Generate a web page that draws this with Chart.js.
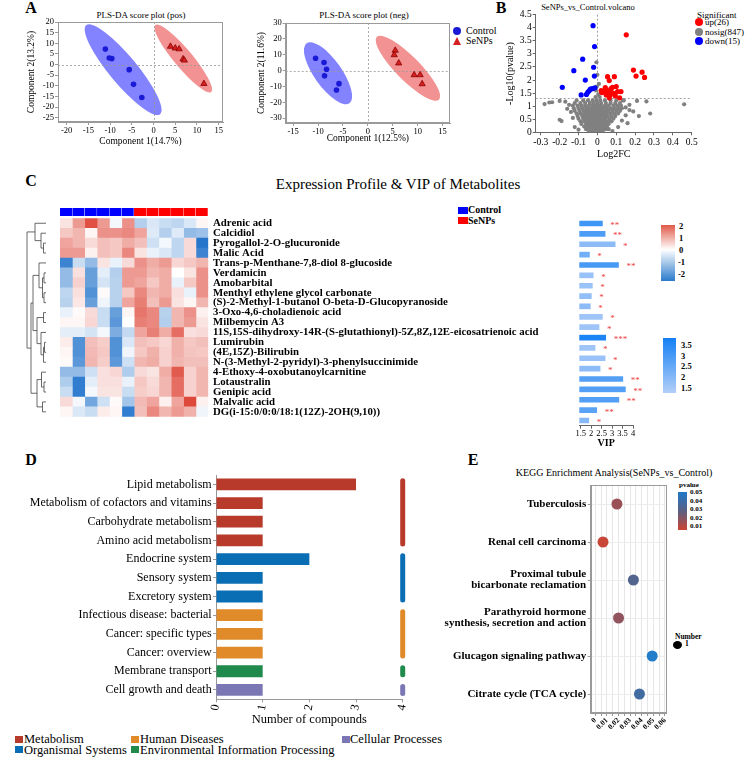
<!DOCTYPE html>
<html>
<head>
<meta charset="utf-8">
<script src="https://cdn.jsdelivr.net/npm/chart.js@4.4.0/dist/chart.umd.min.js"></script>
<style>
  body { margin: 0; background: #fff; width: 745px; height: 763px; position: relative; overflow: hidden;
         font-family: "Liberation Serif", "Times New Roman", serif; color: #000; }
  canvas { position: absolute; }
  .t { position: absolute; white-space: nowrap; line-height: 1; }
  .c { transform: translate(-50%, -50%); }
  .l { transform: translateY(-50%); }
  .letter { font-weight: bold; font-size: 16px; }
  .sw { position: absolute; }
</style>
</head>
<body>

<!-- panel letters / titles -->
<div class="t c letter" style="left:31px;top:8px">A</div>
<div class="t c letter" style="left:501px;top:8px">B</div>
<div class="t c letter" style="left:31px;top:181px">C</div>
<div class="t c letter" style="left:31px;top:460px">D</div>
<div class="t c letter" style="left:473px;top:460px">E</div>

<div class="t c" style="left:141px;top:15px;font-size:9px">PLS-DA score plot (pos)</div>
<div class="t c" style="left:364px;top:15px;font-size:9px">PLS-DA score plot (neg)</div>
<div class="t c" style="left:588px;top:7px;font-size:8.5px">SeNPs_vs_Control.volcano</div>
<div class="t c" style="left:398px;top:184px;font-size:15px">Expression Profile &amp; VIP of Metabolites</div>
<div class="t c" style="left:614px;top:473px;font-size:10px">KEGG Enrichment Analysis(SeNPs_vs_Control)</div>

<!-- A (neg) legend -->
<div class="sw" style="left:453px;top:27px;width:8px;height:8px;border-radius:50%;background:#1a1ad6"></div>
<div class="t l" style="left:466px;top:31px;font-size:10px">Control</div>
<div class="sw" style="left:453px;top:37px;width:0;height:0;border-left:4.5px solid transparent;border-right:4.5px solid transparent;border-bottom:8px solid #d42020"></div>
<div class="t l" style="left:466px;top:41px;font-size:10px">SeNPs</div>

<!-- B legend -->
<div class="t l" style="left:697px;top:15px;font-size:9px">Significant</div>
<div class="sw" style="left:695px;top:18px;width:8px;height:8px;border-radius:50%;background:#ff0000"></div>
<div class="t l" style="left:705px;top:22px;font-size:9px">up(26)</div>
<div class="sw" style="left:695px;top:28px;width:8px;height:8px;border-radius:50%;background:#808080"></div>
<div class="t l" style="left:705px;top:32px;font-size:9px">nosig(847)</div>
<div class="sw" style="left:695px;top:37px;width:8px;height:8px;border-radius:50%;background:#0000ff"></div>
<div class="t l" style="left:705px;top:41px;font-size:9px">down(15)</div>

<!-- C legends -->
<div class="sw" style="left:458px;top:207px;width:10px;height:7px;background:#0000ff"></div>
<div class="t l" style="left:468px;top:210px;font-size:10px;font-weight:bold">Control</div>
<div class="sw" style="left:458px;top:217px;width:10px;height:7px;background:#ff0000"></div>
<div class="t l" style="left:468px;top:221px;font-size:10px;font-weight:bold">SeNPs</div>

<div class="sw" style="left:661px;top:225px;width:14px;height:56px;background:linear-gradient(#e05a48 0%, #ffffff 44%, #2a7acb 100%)"></div>
<div class="t l" style="left:679px;top:226px;font-size:8.5px;font-weight:bold">2</div>
<div class="t l" style="left:679px;top:238px;font-size:8.5px;font-weight:bold">1</div>
<div class="t l" style="left:679px;top:250px;font-size:8.5px;font-weight:bold">0</div>
<div class="t l" style="left:678px;top:262px;font-size:8.5px;font-weight:bold">-1</div>
<div class="t l" style="left:678px;top:274px;font-size:8.5px;font-weight:bold">-2</div>

<div class="sw" style="left:663px;top:338px;width:13px;height:55px;background:linear-gradient(#1480f5, #b3cff8)"></div>
<div class="t l" style="left:681px;top:345px;font-size:8.5px;font-weight:bold">3.5</div>
<div class="t l" style="left:681px;top:356px;font-size:8.5px;font-weight:bold">3</div>
<div class="t l" style="left:681px;top:366px;font-size:8.5px;font-weight:bold">2.5</div>
<div class="t l" style="left:681px;top:377px;font-size:8.5px;font-weight:bold">2</div>
<div class="t l" style="left:681px;top:388px;font-size:8.5px;font-weight:bold">1.5</div>

<!-- D legend -->
<div class="sw" style="left:15px;top:736px;width:8px;height:7px;background:#b83a2a"></div>
<div class="t l" style="left:24px;top:739px;font-size:12.5px">Metabolism</div>
<div class="sw" style="left:131px;top:736px;width:8px;height:7px;background:#e08a2a"></div>
<div class="t l" style="left:140px;top:739px;font-size:12.5px">Human Diseases</div>
<div class="sw" style="left:342px;top:736px;width:8px;height:7px;background:#7b77b5"></div>
<div class="t l" style="left:350px;top:739px;font-size:12.5px">Cellular Processes</div>
<div class="sw" style="left:15px;top:746px;width:8px;height:7px;background:#0a6eb4"></div>
<div class="t l" style="left:24px;top:750px;font-size:12.5px">Organismal Systems</div>
<div class="sw" style="left:131px;top:746px;width:8px;height:7px;background:#1f8a4c"></div>
<div class="t l" style="left:140px;top:750px;font-size:12.5px">Environmental Information Processing</div>

<!-- E legends -->
<div class="t l" style="left:679px;top:485px;font-size:7px;font-weight:bold">pvalue</div>
<div class="sw" style="left:678px;top:492px;width:9px;height:38px;background:linear-gradient(#1f78c8, #5a5f82 50%, #cc4433)"></div>
<div class="t l" style="left:690px;top:492px;font-size:7px;font-weight:bold">0.05</div>
<div class="t l" style="left:690px;top:501px;font-size:7px;font-weight:bold">0.04</div>
<div class="t l" style="left:690px;top:509px;font-size:7px;font-weight:bold">0.03</div>
<div class="t l" style="left:690px;top:518px;font-size:7px;font-weight:bold">0.02</div>
<div class="t l" style="left:690px;top:526px;font-size:7px;font-weight:bold">0.01</div>
<div class="t l" style="left:675px;top:637px;font-size:7.5px;font-weight:bold">Number</div>
<div class="sw" style="left:673px;top:641px;width:9px;height:8px;border-radius:50%;background:#000"></div>
<div class="t l" style="left:685px;top:644px;font-size:7.5px;font-weight:bold">1</div>

<canvas id="plsPos" width="250" height="160" style="left:0;top:0"></canvas>
<canvas id="plsNeg" width="250" height="160" style="left:250px;top:0"></canvas>
<canvas id="volcano" width="245" height="160" style="left:500px;top:0"></canvas>
<canvas id="groupBar" width="148" height="8" style="left:60px;top:208px"></canvas>
<canvas id="heat" width="540" height="228" style="left:10px;top:200px"></canvas>
<canvas id="vip" width="100" height="250" style="left:560px;top:200px"></canvas>
<canvas id="kegg1" width="420" height="265" style="left:0;top:465px"></canvas>
<canvas id="kegg2" width="325" height="255" style="left:420px;top:478px"></canvas>

<script>
// ---------- A: PLS-DA scores ----------
const posControl = [[-11.1, 7.3], [-10.2, 3.1], [-9.6, 2.8], [-5.6, -2.4], [-4.6, -9.3], [-2.7, -15.5]];
const posSeNPs = [[3.9, 8.5], [5.0, 7.7], [5.9, 7.3], [6.8, 2.6], [7.1, 2.0], [11.6, -9.0]];
const negControl = [[-10.5, 7.8], [-8.8, 5.1], [-8.3, 0.9], [-8.7, -3.2], [-5.8, -8.2], [-6.3, -12.2]];
const negSeNPs = [[5.5, 12.7], [5.3, 9.9], [6.2, 4.7], [9.3, -2.7], [10.5, -2.7], [10.9, -8.4]];
// confidence ellipses: major-axis tips (x1, y1, x2, y2) and minor/major ratio
const posEllipseControl = [-15.5, 18.5, 1.5, -23.3, 0.24];
const posEllipseSeNPs = [0.4, 18.6, 13.3, -12.9, 0.21];
const negEllipseControl = [-12.3, 17.3, -3.7, -20.6, 0.37];
const negEllipseSeNPs = [1.8, 21.3, 14.3, -18.3, 0.27];

// ---------- B: volcano ----------
const volcanoUp = [[0.153, 3.73], [0.191, 2.38], [0.237, 2.30], [0.205, 2.15], [0.25, 2.1], [0.054, 2.13],
  [0.09, 2.13], [0.063, 1.98], [0.042, 1.71], [0.1, 1.75], [0.072, 1.67], [0.024, 1.52], [0.036, 1.56],
  [0.054, 1.6], [0.072, 1.56], [0.086, 1.49], [0.107, 1.56], [0.125, 1.56], [0.068, 1.43], [0.047, 1.43],
  [0.095, 1.39], [0.118, 1.32], [0.063, 1.32], [0.042, 1.63], [0.02, 1.6], [0.08, 1.72]];
const volcanoDown = [[-0.023, 4.08], [-0.015, 3.28], [-0.078, 2.8], [-0.125, 2.36], [-0.02, 2.49],
  [-0.016, 2.15], [-0.064, 2.0], [-0.186, 1.72], [-0.086, 1.43], [-0.058, 1.45], [-0.051, 1.53],
  [-0.044, 1.59], [-0.037, 1.65], [-0.027, 1.67], [-0.013, 1.7]];
const volcanoNosig = [
  [-0.045, 0.03], [-0.03, 0.03], [-0.015, 0.03], [0, 0.03], [0.015, 0.03], [0.028, 0.03],
  [-0.06, 0.12], [-0.045, 0.12], [-0.03, 0.12], [-0.015, 0.12], [0, 0.12], [0.015, 0.12], [0.03, 0.12], [0.045, 0.12],
  [-0.07, 0.22], [-0.055, 0.22], [-0.04, 0.22], [-0.025, 0.22], [-0.01, 0.22], [0.005, 0.22], [0.02, 0.22], [0.035, 0.22], [0.05, 0.22],
  [-0.085, 0.32], [-0.06, 0.32], [-0.045, 0.32], [-0.03, 0.32], [-0.015, 0.32], [0, 0.32], [0.015, 0.32], [0.03, 0.32], [0.045, 0.32], [0.06, 0.32],
  [-0.09, 0.42], [-0.07, 0.42], [-0.05, 0.42], [-0.035, 0.42], [-0.02, 0.42], [-0.005, 0.42], [0.01, 0.42], [0.025, 0.42], [0.04, 0.42], [0.06, 0.42], [0.075, 0.42],
  [-0.1, 0.52], [-0.075, 0.52], [-0.06, 0.52], [-0.045, 0.52], [-0.03, 0.52], [-0.015, 0.52], [0, 0.52], [0.015, 0.52], [0.03, 0.52], [0.045, 0.52], [0.065, 0.52], [0.085, 0.52],
  [-0.105, 0.62], [-0.08, 0.62], [-0.065, 0.62], [-0.05, 0.62], [-0.035, 0.62], [-0.02, 0.62], [-0.005, 0.62], [0.01, 0.62], [0.025, 0.62], [0.04, 0.62], [0.055, 0.62], [0.075, 0.62], [0.095, 0.62],
  [-0.11, 0.72], [-0.09, 0.72], [-0.07, 0.72], [-0.055, 0.72], [-0.04, 0.72], [-0.025, 0.72], [-0.01, 0.72], [0.005, 0.72], [0.02, 0.72], [0.035, 0.72], [0.05, 0.72], [0.07, 0.72], [0.09, 0.72], [0.11, 0.72],
  [-0.12, 0.82], [-0.095, 0.82], [-0.075, 0.82], [-0.06, 0.82], [-0.045, 0.82], [-0.03, 0.82], [-0.015, 0.82], [0, 0.82], [0.015, 0.82], [0.03, 0.82], [0.045, 0.82], [0.06, 0.82], [0.08, 0.82], [0.1, 0.82], [0.12, 0.82],
  [-0.125, 0.92], [-0.1, 0.92], [-0.08, 0.92], [-0.06, 0.92], [-0.045, 0.92], [-0.03, 0.92], [-0.015, 0.92], [0, 0.92], [0.015, 0.92], [0.03, 0.92], [0.05, 0.92], [0.07, 0.92], [0.09, 0.92], [0.11, 0.92], [0.13, 0.92],
  [-0.13, 1.02], [-0.105, 1.02], [-0.085, 1.02], [-0.065, 1.02], [-0.045, 1.02], [-0.025, 1.02], [-0.01, 1.02], [0.005, 1.02], [0.02, 1.02], [0.04, 1.02], [0.06, 1.02], [0.085, 1.02], [0.105, 1.02], [0.125, 1.02],
  [-0.12, 1.12], [-0.09, 1.12], [-0.065, 1.12], [-0.04, 1.12], [-0.02, 1.12], [0, 1.12], [0.02, 1.12], [0.045, 1.12], [0.07, 1.12], [0.095, 1.12], [0.12, 1.12],
  [-0.11, 1.22], [-0.075, 1.22], [-0.05, 1.22], [-0.025, 1.22], [-0.005, 1.22], [0.015, 1.22], [0.04, 1.22], [0.07, 1.22], [0.1, 1.22], [0.135, 1.22],
  [-0.01, 1.35], [0.012, 1.35], [0.005, 1.45], [-0.008, 1.6], [-0.003, 1.75], [0.008, 1.85], [0, 2.2], [-0.005, 2.68],
  [-0.28, 1.08], [-0.255, 1.14], [-0.24, 1.15], [-0.2, 1.2], [-0.17, 1.17], [-0.15, 1.05], [-0.16, 0.9], [-0.14, 0.78],
  [-0.2, 0.48], [-0.19, 0.43], [-0.13, 0.55], [-0.12, 0.2], [0.11, 0.2], [0.13, 0.45], [0.15, 0.95], [0.17, 0.85],
  [0.19, 0.8], [0.15, 0.65], [0.22, 0.62], [0.28, 0.72], [0.21, 1.2], [0.26, 1.18], [0.46, 1.07], [0.17, 1.05],
  [0.14, 1.22], [0.16, 0.35], [-0.1, 0.1], [0.08, 0.05], [0.06, 0.12]];

// ---------- C: heatmap + VIP ----------
const metabolites = ['Adrenic acid', 'Calcidiol', 'Pyrogallol-2-O-glucuronide', 'Malic Acid',
  'Trans-p-Menthane-7,8-diol 8-glucoside', 'Verdamicin', 'Amobarbital', 'Menthyl ethylene glycol carbonate',
  '(S)-2-Methyl-1-butanol O-beta-D-Glucopyranoside', '3-Oxo-4,6-choladienoic acid', 'Milbemycin A3',
  '11S,15S-dihydroxy-14R-(S-glutathionyl)-5Z,8Z,12E-eicosatrienoic acid', 'Lumirubin', '(4E,15Z)-Bilirubin',
  'N-(3-Methyl-2-pyridyl)-3-phenylsuccinimide', '4-Ethoxy-4-oxobutanoylcarnitine', 'Lotaustralin',
  'Genipic acid', 'Malvalic acid', 'DG(i-15:0/0:0/18:1(12Z)-2OH(9,10))'];
const sampleGroup = ['Control', 'Control', 'Control', 'Control', 'Control', 'Control',
  'SeNPs', 'SeNPs', 'SeNPs', 'SeNPs', 'SeNPs', 'SeNPs'];
const heatZ = [
  [0.3, 1.1, 1.9, 1.1, -0.1, 1.2, -0.7, -0.35, -0.5, -0.6, -0.35, 0.1],
  [0.6, 0.8, 0.1, 1.2, 1.2, 1.3, 1.0, -0.3, -0.7, -0.3, -1.0, -0.9],
  [1.0, 0.8, 0.4, 0.7, 0.6, 0.9, 0.7, -0.45, -0.1, -0.6, 0.4, -2.0],
  [1.1, 1.1, 0.15, 0.7, 0.6, 1.3, 0.3, -0.2, -0.35, -0.6, 0.4, -1.8],
  [-1.8, -0.5, -1.0, 0.3, -0.2, 0.4, 1.2, 0.9, 1.1, 0.45, 0.6, 0.8],
  [-1.0, 0.35, -1.4, -0.25, -0.7, 1.1, 1.1, 0.8, 0.9, 0.0, 0.3, 1.2],
  [-1.0, 0.5, -1.4, -0.4, -0.65, 1.1, 1.0, 0.6, 0.9, -0.2, 0.6, 1.2],
  [-0.6, 0.35, -1.6, 0.05, -0.65, 0.6, 1.3, 0.8, 0.9, 0.35, -0.2, 1.2],
  [-0.65, 0.25, -1.4, -0.15, -0.65, 1.0, 1.4, 0.7, 1.1, 0.3, 0.1, 0.8],
  [-0.2, 0.05, 0.4, -0.5, -1.4, 0.1, 1.5, 1.3, -0.65, 0.8, 1.2, 0.15],
  [0.1, 0.1, 0.45, -0.5, -1.5, 0.0, 1.4, 1.3, -0.7, 0.8, 1.1, 0.3],
  [-0.25, -0.25, -0.4, -0.1, -1.2, -0.55, 1.0, 1.4, 0.9, 1.6, 0.35, 0.4],
  [0.2, -1.6, 0.7, 0.55, -1.6, -0.35, 0.7, 0.6, 0.45, 0.85, 0.6, 0.7],
  [0.1, -1.6, 0.75, 0.6, -1.6, -0.15, 0.6, 0.85, 0.5, 0.85, 0.65, 0.6],
  [0.05, -1.5, 0.8, 0.55, -1.5, -0.45, 0.8, 0.9, 0.5, 0.8, 0.7, 0.7],
  [-1.0, -1.0, -0.45, 0.35, 0.45, -0.75, 0.4, 0.3, 0.9, 1.8, 0.5, 0.8],
  [-0.75, -1.9, -0.25, 0.35, 0.35, -0.2, 0.6, 0.4, 0.8, 1.6, 0.5, 0.8],
  [-0.5, -1.9, -0.1, 0.3, 0.3, -0.5, 0.55, 0.45, 0.8, 1.6, 0.5, 0.8],
  [0.4, -0.1, -1.3, -0.45, 0.05, -0.85, 0.75, 1.0, 0.15, 1.0, 2.0, 0.15],
  [0.1, -0.35, -0.5, 0.2, 0.1, -1.9, 0.7, 1.3, 0.8, 1.1, 0.85, -0.15]];
// row dendrogram merges: [nodeA, nodeB, height]; leaves are 0..19, new nodes numbered from 20
const rowMerges = [
  [2, 3, 2.5], [1, 20, 5], [0, 21, 11],
  [5, 6, 2], [7, 8, 2], [23, 24, 3.5], [4, 25, 7],
  [9, 10, 2.5], [12, 13, 1.5], [28, 14, 2.5], [11, 29, 5], [27, 30, 9],
  [16, 17, 2], [15, 32, 4.5], [18, 19, 3.5], [33, 34, 9],
  [26, 31, 13], [36, 35, 15], [22, 37, 19]];
const vipScore = [2.58, 2.71, 3.19, 1.96, 3.35, 2.14, 2.10, 2.05, 2.00, 2.58, 2.42, 2.74, 2.23, 2.71, 2.47,
  3.56, 3.68, 3.37, 2.31, 1.93];
const vipLogP = [3.1, 2.9, 1.9, 2.3, 3.0, 1.7, 1.7, 1.8, 1.9, 1.6, 1.6, 3.7, 1.6, 1.7, 1.9, 2.8, 2.8, 2.8, 2.7, 2.0];
const vipStars = ['**', '**', '*', '*', '**', '*', '*', '*', '*', '*', '*', '***', '*', '*', '*',
  '**', '**', '**', '**', '*'];

// ---------- D: KEGG classification ----------
const pathways = ['Lipid metabolism', 'Metabolism of cofactors and vitamins', 'Carbohydrate metabolism',
  'Amino acid metabolism', 'Endocrine system', 'Sensory system', 'Excretory system',
  'Infectious disease: bacterial', 'Cancer: specific types', 'Cancer: overview', 'Membrane transport',
  'Cell growth and death'];
const compoundCounts = [3, 1, 1, 1, 2, 1, 1, 1, 1, 1, 1, 1];
const pathwayClass = ['Metabolism', 'Metabolism', 'Metabolism', 'Metabolism', 'Organismal Systems',
  'Organismal Systems', 'Organismal Systems', 'Human Diseases', 'Human Diseases', 'Human Diseases',
  'Environmental Information Processing', 'Cellular Processes'];
const classColors = {
  'Metabolism': '#b83a2a', 'Organismal Systems': '#0a6eb4', 'Human Diseases': '#e08a2a',
  'Environmental Information Processing': '#1f8a4c', 'Cellular Processes': '#7b77b5'
};

// ---------- E: KEGG enrichment ----------
const keggTerms = ['Tuberculosis', 'Renal cell carcinoma', ['Proximal tubule', 'bicarbonate reclamation'],
  ['Parathyroid hormone', 'synthesis, secretion and action'], 'Glucagon signaling pathway',
  'Citrate cycle (TCA cycle)'];
const keggPvalue = [0.0186, 0.0066, 0.0328, 0.0200, 0.0490, 0.0380];
const keggNumber = [1, 1, 1, 1, 1, 1];

Chart.defaults.font.family = "'Liberation Serif', 'Times New Roman', serif";
Chart.defaults.color = '#000';

function mix(a, b, t) {
  t = Math.max(0, Math.min(1, t));
  return 'rgb(' + a.map((v, i) => Math.round(v + (b[i] - v) * t)).join(',') + ')';
}
function zColor(z) {
  return z >= 0 ? mix([255, 255, 255], [222, 72, 58], z / 2) : mix([255, 255, 255], [38, 118, 204], -z / 2);
}
function vipColor(v) { return mix([178, 206, 248], [20, 128, 245], (v - 1.3) / 2.5); }
function pColor(p) {
  if (p <= 0.03) return mix([200, 70, 55], [90, 95, 130], (p - 0.01) / 0.02);
  return mix([90, 95, 130], [30, 125, 205], (p - 0.03) / 0.02);
}
// plain number labels: 4 instead of 4.0
const plain = v => String(+(+v).toFixed(3));

const framePlugin = {
  id: 'frame',
  afterDraw(chart) {
    const { ctx, chartArea: a } = chart;
    ctx.save();
    ctx.strokeStyle = '#9a9a9a';
    ctx.lineWidth = 1;
    ctx.strokeRect(Math.round(a.left) + 0.5, Math.round(a.top) + 0.5,
      Math.round(a.right - a.left) - 1, Math.round(a.bottom - a.top) - 1);
    ctx.restore();
  }
};

const ellipsePlugin = {
  id: 'ellipses',
  beforeDatasetsDraw(chart, args, opts) {
    const { ctx, scales: { x, y } } = chart;
    (opts.items || []).forEach(e => {
      const [x1, y1, x2, y2, ratio] = e.axis;
      const px1 = x.getPixelForValue(x1), py1 = y.getPixelForValue(y1);
      const px2 = x.getPixelForValue(x2), py2 = y.getPixelForValue(y2);
      const a = Math.hypot(px2 - px1, py2 - py1) / 2;
      ctx.save();
      ctx.fillStyle = e.color;
      ctx.beginPath();
      ctx.ellipse((px1 + px2) / 2, (py1 + py2) / 2, a, a * ratio, Math.atan2(py2 - py1, px2 - px1), 0, Math.PI * 2);
      ctx.fill();
      ctx.restore();
    });
  }
};

const refLinePlugin = {
  id: 'refLines',
  beforeDatasetsDraw(chart, args, opts) {
    const { ctx, chartArea: a, scales: { x, y } } = chart;
    ctx.save();
    ctx.strokeStyle = opts.color || '#9a9a9a';
    ctx.lineWidth = 0.8;
    ctx.setLineDash([2, 2]);
    (opts.x || []).forEach(v => {
      const px = Math.round(x.getPixelForValue(v)) + 0.5;
      ctx.beginPath(); ctx.moveTo(px, a.top); ctx.lineTo(px, a.bottom); ctx.stroke();
    });
    (opts.y || []).forEach(v => {
      const py = Math.round(y.getPixelForValue(v)) + 0.5;
      ctx.beginPath(); ctx.moveTo(a.left, py); ctx.lineTo(a.right, py); ctx.stroke();
    });
    ctx.restore();
  }
};

function base(extra) {
  return Object.assign({
    responsive: false, animation: false, devicePixelRatio: 1,
    plugins: { legend: { display: false }, tooltip: { enabled: false } }
  }, extra);
}
const pts = arr => arr.map(p => ({ x: p[0], y: p[1] }));

function axisLin(opts) {
  return Object.assign({
    type: 'linear',
    grid: { drawOnChartArea: false, tickLength: 3, color: '#9a9a9a' },
    border: { color: '#9a9a9a' }
  }, opts);
}

function plsChart(id, ctrl, sen, ellipses, cfg) {
  return new Chart(document.getElementById(id), {
    type: 'scatter',
    data: {
      datasets: [
        { label: 'SeNPs', data: pts(sen), pointStyle: 'triangle', pointRadius: 3.6,
          backgroundColor: '#d42020', borderColor: '#8b0000', borderWidth: 0.8 },
        { label: 'Control', data: pts(ctrl), pointStyle: 'circle', pointRadius: 2.8,
          backgroundColor: '#1a1ad6', borderColor: '#1a1ad6', borderWidth: 0 }
      ]
    },
    options: base({
      layout: { padding: cfg.padding },
      plugins: {
        legend: { display: false }, tooltip: { enabled: false },
        ellipses: { items: ellipses }, refLines: { x: [0], y: [0] }
      },
      scales: {
        x: axisLin({
          min: cfg.xr[0], max: cfg.xr[1],
          ticks: { stepSize: 5, includeBounds: false, autoSkip: false, font: { size: 8.5 }, padding: 1, maxRotation: 0 },
          title: { display: true, text: cfg.xt, font: { size: 9.5 }, padding: { top: 0, bottom: cfg.xtp } },
          afterFit: s => { s.height = cfg.xh; }
        }),
        y: axisLin({
          min: cfg.yr[0], max: cfg.yr[1],
          ticks: { stepSize: cfg.ys, includeBounds: false, autoSkip: false, font: { size: 8.5 }, padding: 1 },
          title: { display: true, text: cfg.yt, font: { size: 9.5 }, padding: { top: cfg.ytp, bottom: 0 } },
          afterFit: s => { s.width = cfg.yw; }
        })
      }
    }),
    plugins: [ellipsePlugin, refLinePlugin, framePlugin]
  });
}

plsChart('plsPos', posControl, posSeNPs, [
  { axis: posEllipseControl, color: 'rgba(90,90,255,0.75)' },
  { axis: posEllipseSeNPs, color: 'rgba(238,110,110,0.75)' }
], { padding: { top: 22, right: 27 }, xr: [-22, 16], yr: [-27, 20], ys: 5,
  xt: 'Component 1(14.7%)', yt: 'Component 2(13.2%)', xh: 38, yw: 58, xtp: 13, ytp: 26 });

plsChart('plsNeg', negControl, negSeNPs, [
  { axis: negEllipseControl, color: 'rgba(90,90,255,0.75)' },
  { axis: negEllipseSeNPs, color: 'rgba(238,110,110,0.75)' }
], { padding: { top: 23, right: 50 }, xr: [-16.5, 16.5], yr: [-33, 30], ys: 10,
  xt: 'Component 1(12.5%)', yt: 'Component 2(11.6%)', xh: 37, yw: 35.7, xtp: 16, ytp: 6 });

// volcano
new Chart(document.getElementById('volcano'), {
  type: 'scatter',
  data: {
    datasets: [
      { label: 'up(26)', data: pts(volcanoUp), pointRadius: 2.6, backgroundColor: '#ff0000', borderWidth: 0 },
      { label: 'down(15)', data: pts(volcanoDown), pointRadius: 2.6, backgroundColor: '#0000ff', borderWidth: 0 },
      { label: 'nosig(847)', data: pts(volcanoNosig), pointRadius: 2.1, backgroundColor: '#808080', borderWidth: 0 }
    ]
  },
  options: base({
    layout: { padding: { top: 14.7, right: 53.3 } },
    plugins: { legend: { display: false }, tooltip: { enabled: false }, refLines: { x: [0], y: [1.3], color: '#888' } },
    scales: {
      x: axisLin({
        min: -0.327, max: 0.5,
        ticks: { stepSize: 0.1, includeBounds: false, autoSkip: false, font: { size: 9.5 }, padding: 1, maxRotation: 0, callback: plain },
        title: { display: true, text: 'Log2FC', font: { size: 10 }, padding: { top: 0, bottom: 0 } },
        grid: { drawOnChartArea: false, tickLength: 3, color: '#666' }, border: { color: '#666' },
        afterFit: s => { s.height = 27.7; }
      }),
      y: axisLin({
        min: 0, max: 4.5,
        ticks: { stepSize: 0.5, includeBounds: false, autoSkip: false, font: { size: 9.5 }, padding: 1, callback: plain },
        title: { display: true, text: '-Log10(pvalue)', font: { size: 10 }, padding: { top: 4, bottom: 0 } },
        grid: { drawOnChartArea: false, tickLength: 3, color: '#666' }, border: { color: '#666' },
        afterFit: s => { s.width = 35.7; }
      })
    }
  }),
  plugins: [refLinePlugin]
});

// group colour bar above heatmap
new Chart(document.getElementById('groupBar'), {
  type: 'bar',
  data: {
    labels: ['group'],
    datasets: sampleGroup.map((g, c) => ({
      label: g, data: [[c, c + 1]], backgroundColor: g === 'Control' ? '#0000ff' : '#ff0000',
      borderColor: 'rgba(255,255,255,0.35)', borderWidth: { left: 0.6, right: 0.6, top: 0, bottom: 0 },
      barPercentage: 1, categoryPercentage: 1, grouped: false
    }))
  },
  options: base({
    indexAxis: 'y',
    scales: { x: { display: false, min: 0, max: 12 }, y: { display: false } }
  })
});

// dendrogram on the left of the heatmap
const dendroPlugin = {
  id: 'dendro',
  afterDraw(chart) {
    const { ctx, chartArea: a, scales: { y } } = chart;
    const leafX = a.left - 14;
    const nodes = metabolites.map((m, i) => ({ y: y.getPixelForValue(i), h: 0 }));
    ctx.save();
    ctx.strokeStyle = '#444';
    ctx.lineWidth = 0.8;
    rowMerges.forEach(([p, q, h]) => {
      const n1 = nodes[p], n2 = nodes[q];
      const xm = leafX - h;
      ctx.beginPath();
      ctx.moveTo(leafX - n1.h, n1.y); ctx.lineTo(xm, n1.y);
      ctx.lineTo(xm, n2.y); ctx.lineTo(leafX - n2.h, n2.y);
      ctx.stroke();
      nodes.push({ y: (n1.y + n2.y) / 2, h: h });
    });
    ctx.restore();
  }
};

new Chart(document.getElementById('heat'), {
  type: 'bar',
  data: {
    labels: metabolites,
    datasets: sampleGroup.map((g, c) => ({
      label: g + (c % 6 + 1),
      data: metabolites.map(() => [c, c + 1]),
      backgroundColor: metabolites.map((m, r) => zColor(heatZ[r][c])),
      borderWidth: 0, barPercentage: 1, categoryPercentage: 1, grouped: false
    }))
  },
  options: base({
    indexAxis: 'y',
    layout: { padding: { left: 50, top: 18.3, bottom: 2.3, right: 0 } },
    scales: {
      x: { display: false, min: 0, max: 12 },
      y: {
        position: 'right', grid: { display: false, drawTicks: false }, border: { display: false },
        ticks: { autoSkip: false, padding: 4.7, font: { size: 10.8, weight: 'bold' }, color: '#000' },
        afterFit: s => { s.width = 341.7; }
      }
    }
  }),
  plugins: [dendroPlugin]
});

// VIP bars with significance stars
const starPlugin = {
  id: 'stars',
  afterDatasetsDraw(chart) {
    const { ctx } = chart;
    const meta = chart.getDatasetMeta(0);
    ctx.save();
    ctx.fillStyle = '#ee3a3a';
    ctx.font = "9px 'Liberation Serif', serif";
    ctx.textBaseline = 'middle';
    meta.data.forEach((bar, i) => ctx.fillText(vipStars[i], bar.x + 7, bar.y + 2));
    ctx.restore();
  }
};

new Chart(document.getElementById('vip'), {
  type: 'bar',
  data: {
    labels: metabolites,
    datasets: [{
      label: 'VIP', data: vipScore, backgroundColor: vipLogP.map(vipColor),
      borderColor: 'rgba(255,255,255,0.6)', borderWidth: 0.6,
      barPercentage: 0.66, categoryPercentage: 1
    }]
  },
  options: base({
    indexAxis: 'y',
    layout: { padding: { left: 19.3, top: 18.3, right: 27 } },
    scales: {
      x: {
        min: 1.43, max: 4,
        ticks: { stepSize: 0.5, includeBounds: false, autoSkip: false, maxRotation: 0, font: { size: 8.5 }, padding: 0, callback: plain },
        grid: { drawOnChartArea: false, tickLength: 3, color: '#666' }, border: { color: '#666' },
        title: { display: true, text: 'VIP', font: { size: 10, weight: 'bold' }, padding: { top: 0, bottom: 1 } },
        afterFit: s => { s.height = 24.3; }
      },
      y: { display: false }
    }
  }),
  plugins: [starPlugin]
});

// D: class strips at the right edge
const classBarPlugin = {
  id: 'classBars',
  afterDatasetsDraw(chart) {
    const { ctx, scales: { x, y } } = chart;
    const band = y.getPixelForValue(1) - y.getPixelForValue(0);
    const px = x.getPixelForValue(4);
    ctx.save();
    Object.keys(classColors).forEach(cls => {
      const idx = pathwayClass.map((c, i) => c === cls ? i : -1).filter(i => i >= 0);
      const top = y.getPixelForValue(idx[0]) - band * 0.32;
      const bot = y.getPixelForValue(idx[idx.length - 1]) + band * 0.32;
      ctx.fillStyle = classColors[cls];
      ctx.beginPath();
      ctx.roundRect(px - 2.5, top, 5, bot - top, 2.5);
      ctx.fill();
    });
    ctx.restore();
  }
};

new Chart(document.getElementById('kegg1'), {
  type: 'bar',
  data: {
    labels: pathways,
    datasets: [{
      label: 'Number of compounds', data: compoundCounts,
      backgroundColor: pathwayClass.map(c => classColors[c]),
      barPercentage: 0.63, categoryPercentage: 1
    }]
  },
  options: base({
    indexAxis: 'y',
    layout: { padding: { top: 10, right: 17.3 } },
    scales: {
      x: {
        min: 0, max: 4,
        ticks: { stepSize: 1, minRotation: 80, maxRotation: 80, font: { size: 12 }, padding: 1 },
        grid: { drawOnChartArea: false, tickLength: 3, color: '#999' }, border: { color: '#999' },
        title: { display: true, text: 'Number of compounds', font: { size: 12.5 }, padding: { top: 0, bottom: 2.5 } },
        afterFit: s => { s.height = 30.7; }
      },
      y: {
        grid: { drawOnChartArea: false, tickLength: 3, color: '#999', offset: false }, border: { color: '#999' },
        ticks: { autoSkip: false, font: { size: 12 }, padding: 1.3 },
        afterFit: s => { s.width = 216; }
      }
    }
  }),
  plugins: [classBarPlugin]
});

// E: enrichment dot plot
new Chart(document.getElementById('kegg2'), {
  type: 'scatter',
  data: {
    datasets: [{
      label: 'pvalue',
      data: keggPvalue.map((p, i) => ({ x: p, y: i })),
      pointRadius: keggNumber.map(n => 5.5 * n),
      backgroundColor: keggPvalue.map(pColor), borderWidth: 0
    }]
  },
  options: base({
    layout: { padding: { top: 7, right: 78.3 } },
    scales: {
      x: {
        type: 'linear', min: -0.004, max: 0.0615,
        ticks: {
          stepSize: 0.005, includeBounds: false, autoSkip: false, minRotation: 45, maxRotation: 45,
          font: { size: 7.5, weight: 'bold' }, padding: 0,
          callback: v => Math.abs(v * 100 - Math.round(v * 100)) < 1e-6 ? (v === 0 ? '0' : v.toFixed(2)) : ''
        },
        grid: { color: '#e6e6e6', tickLength: 3, tickColor: '#999' }, border: { color: '#999' },
        afterFit: s => { s.height = 20; }
      },
      y: {
        type: 'category', labels: keggTerms, offset: true,
        grid: { color: '#ececec', tickLength: 3, tickColor: '#999' }, border: { color: '#999' },
        ticks: { autoSkip: false, font: { size: 11, weight: 'bold', lineHeight: 1.0 }, padding: 1.5 },
        afterFit: s => { s.width = 170.7; }
      }
    }
  }),
  plugins: [framePlugin]
});
</script>
</body>
</html>
